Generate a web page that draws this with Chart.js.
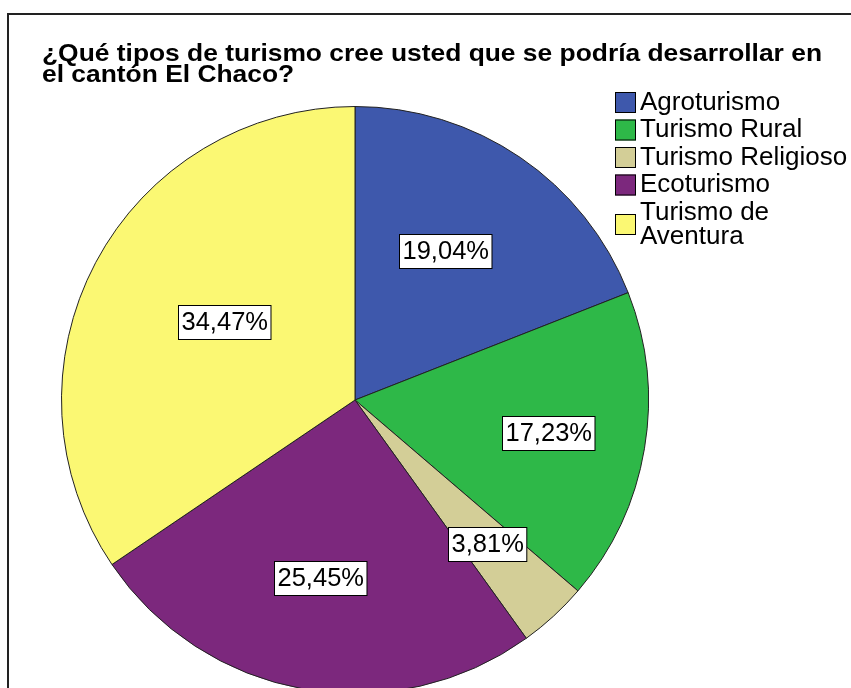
<!DOCTYPE html>
<html>
<head>
<meta charset="utf-8">
<script src="https://cdn.jsdelivr.net/npm/chart.js@4.4.1/dist/chart.umd.min.js"></script>
<style>
  html, body { margin: 0; padding: 0; background: #fff; overflow: hidden; }
  #wrap { position: relative; width: 851px; height: 700px; }
</style>
</head>
<body>
<div id="wrap"><canvas id="pieChart"></canvas></div>
<script>
// Chart data
const titleLines = ["¿Qué tipos de turismo cree usted que se podría desarrollar en", "el cantón El Chaco?"]
const categories = ["Agroturismo", "Turismo Rural", "Turismo Religioso", "Ecoturismo", "Turismo de Aventura"]
const percentages = [19.04, 17.23, 3.81, 25.45, 34.47]
const sliceColors = ["#3e58ac", "#2eb848", "#d3ce97", "#7c287d", "#fbf873"]

// value label placement: fraction of radius, and small angle nudge (degrees)
const labelRadius = [0.594, 0.669, 0.666, 0.618, 0.519]
const labelNudge = [-3, 0, 0, 0.8, 3]

const FONT = "'Liberation Sans', Arial, sans-serif"

function fmtPct(v) {
  return v.toFixed(2).replace(".", ",") + "%"
}

// draw text stretched horizontally
function drawScaled(ctx, text, x, y, sx) {
  ctx.save()
  ctx.translate(x, y)
  ctx.scale(sx, 1)
  ctx.fillText(text, 0, 0)
  ctx.restore()
}

function wrapText(ctx, text, maxWidth) {
  const words = text.split(" ")
  const lines = []
  let line = ""
  words.forEach((w) => {
    const test = line ? line + " " + w : w
    if (line && ctx.measureText(test).width > maxWidth) {
      lines.push(line)
      line = w
    } else {
      line = test
    }
  })
  if (line) lines.push(line)
  return lines
}

const spssDecor = {
  id: "spssDecor",
  beforeDraw(chart) {
    const ctx = chart.ctx
    ctx.save()
    ctx.fillStyle = "#fff"
    ctx.fillRect(0, 0, chart.width, chart.height)
    // outer frame (only top and left edges are visible)
    ctx.strokeStyle = "#222"
    ctx.lineWidth = 2
    ctx.beginPath()
    ctx.moveTo(8, chart.height + 5)
    ctx.lineTo(8, 14)
    ctx.lineTo(chart.width + 5, 14)
    ctx.stroke()
    ctx.restore()
  },
  afterDraw(chart) {
    const ctx = chart.ctx
    ctx.save()

    // Title
    ctx.fillStyle = "#000"
    ctx.font = "bold 24px " + FONT
    ctx.textBaseline = "alphabetic"
    ctx.textAlign = "left"
    const sx = 780 / ctx.measureText(titleLines[0]).width
    titleLines.forEach((t, i) => drawScaled(ctx, t, 42, 61 + i * 21, sx))

    // Legend
    ctx.font = "26px " + FONT
    ctx.textBaseline = "middle"
    const boxX = 615, textX = 640, box = 21
    let y = 102.5
    chart.data.labels.forEach((label, i) => {
      const lines = wrapText(ctx, label, chart.width - textX - 2)
      const mid = y + (lines.length - 1) * 12
      ctx.fillStyle = sliceColors[i]
      ctx.fillRect(boxX, mid - box / 2, box, box)
      ctx.strokeStyle = "#000"
      ctx.lineWidth = 1
      ctx.strokeRect(boxX + 0.5, mid - box / 2 + 0.5, box - 1, box - 1)
      ctx.fillStyle = "#000"
      lines.forEach((ln, k) => ctx.fillText(ln, textX, y + k * 24))
      y += (lines.length - 1) * 24 + 27.5
    })

    // Value labels in white boxes
    const meta = chart.getDatasetMeta(0)
    ctx.font = "25.5px " + FONT
    meta.data.forEach((arc, i) => {
      const p = arc.getProps(["x", "y", "startAngle", "endAngle", "outerRadius"], true)
      const a = (p.startAngle + p.endAngle) / 2 + (labelNudge[i] * Math.PI) / 180
      const r = p.outerRadius * labelRadius[i]
      const cx = p.x + Math.cos(a) * r
      const cy = p.y + Math.sin(a) * r
      const txt = fmtPct(chart.data.datasets[0].data[i])
      const w = ctx.measureText(txt).width
      const bw = w + 6, bh = 34
      const bx = Math.round(cx - bw / 2) + 0.5, by = Math.round(cy - bh / 2) + 0.5
      ctx.fillStyle = "#fff"
      ctx.fillRect(bx, by, bw, bh)
      ctx.strokeStyle = "#000"
      ctx.lineWidth = 1
      ctx.strokeRect(bx, by, bw, bh)
      ctx.fillStyle = "#000"
      ctx.textAlign = "left"
      ctx.textBaseline = "middle"
      ctx.fillText(txt, bx + 3, cy + 1)
    })
    ctx.restore()
  },
}

const ctx = document.getElementById("pieChart")
new Chart(ctx, {
  type: "pie",
  data: {
    labels: categories,
    datasets: [
      {
        data: percentages,
        backgroundColor: sliceColors,
        borderColor: "#222",
        borderWidth: 1,
      },
    ],
  },
  options: {
    responsive: true,
    maintainAspectRatio: false,
    animation: false,
    layout: {
      padding: { left: 61, right: 202, top: 106, bottom: 6 },
    },
    plugins: {
      legend: { display: false },
      title: { display: false },
      tooltip: { enabled: false },
    },
  },
  plugins: [spssDecor],
})
</script>
</body>
</html>
